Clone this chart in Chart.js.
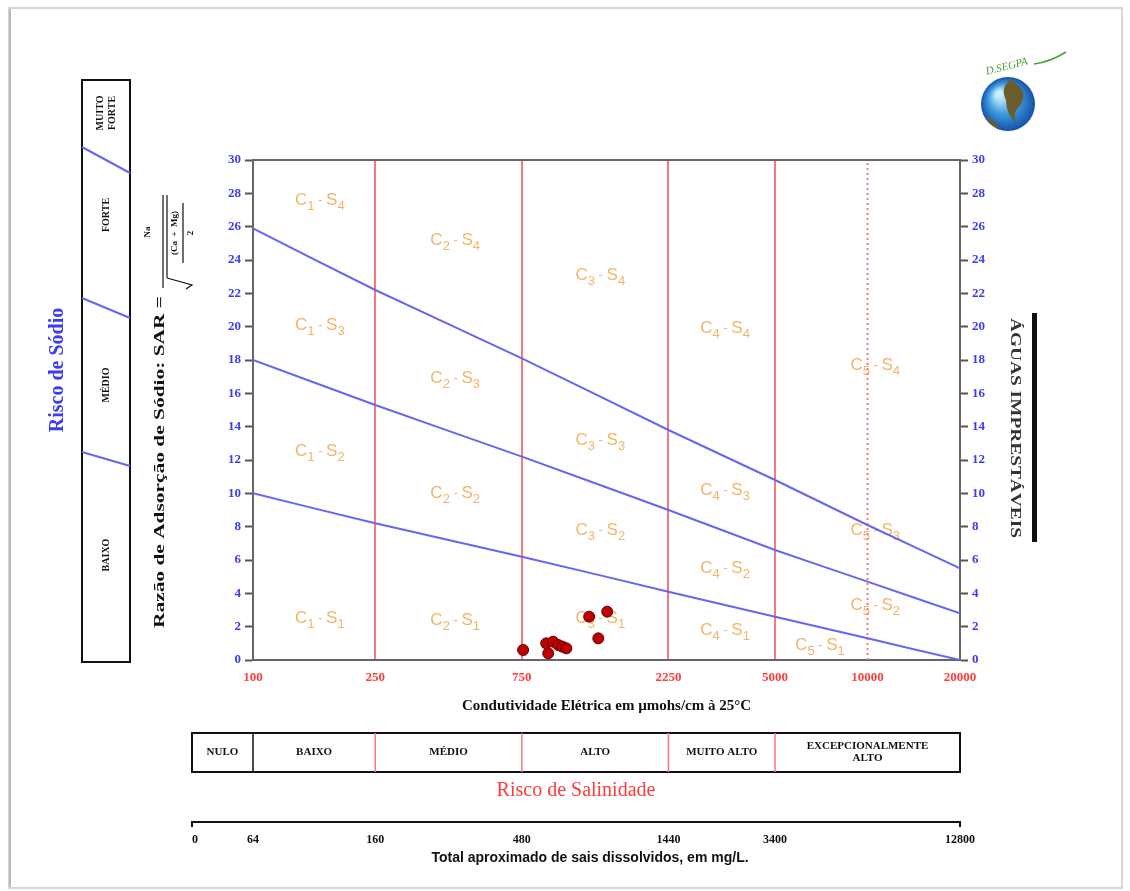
<!DOCTYPE html>
<html lang="pt">
<head>
<meta charset="utf-8">
<title>Classificação de águas para irrigação</title>
<script src="https://cdn.jsdelivr.net/npm/chart.js@4.4.1/dist/chart.umd.min.js"></script>
<style>
  html, body { margin: 0; padding: 0; background: #fff; }
  #wrap { width: 1130px; height: 891px; position: relative; }
</style>
</head>
<body>
<div id="wrap"><canvas id="diagrama"></canvas></div>
<script>
// condutividade (eixo x, log) e limites das classes de salinidade
const condTicks = [100, 250, 750, 2250, 5000, 10000, 20000];
const classLimits = [250, 750, 2250, 5000];
const salinityClasses = ["NULO", "BAIXO", "MÉDIO", "ALTO", "MUITO ALTO", "EXCEPCIONALMENTE ALTO"];
const tdsLabels = ["0", "64", "160", "480", "1440", "3400", "12800"];
const sodiumClasses = ["BAIXO", "MÉDIO", "FORTE", "MUITO FORTE"];

const sarLow = [10, 8.2, 6.2, 4.1, 2.6, 1.3, 0];
const sarMid = [18, 15.3, 12.2, 9.0, 6.6, 4.7, 2.8];
const sarHigh = [25.9, 22.2, 18.1, 13.8, 10.8, 8.1, 5.5];

// amostras
const sampleCE = [757, 900, 914, 948, 985, 1016, 1047, 1242, 1330, 1422];
const sampleSAR = [0.6, 1.0, 0.4, 1.1, 0.9, 0.8, 0.7, 2.6, 1.3, 2.9];

// rótulos das zonas Cx - Sy
const zoneC = [1, 1, 1, 1, 2, 2, 2, 2, 3, 3, 3, 3, 4, 4, 4, 4, 5, 5, 5, 5];
const zoneS = [4, 3, 2, 1, 4, 3, 2, 1, 4, 3, 2, 1, 4, 3, 2, 1, 4, 3, 2, 1];
const zoneCE = [165, 165, 165, 165, 455, 455, 455, 455, 1350, 1350, 1350, 1350,
                3440, 3440, 3440, 3440, 10600, 10600, 10600, 7000];
const zoneSAR = [27.6, 20.1, 12.5, 2.5, 25.2, 16.9, 10.0, 2.4, 23.1, 13.2, 7.8, 2.5,
                 19.9, 10.2, 5.5, 1.8, 17.7, 7.8, 3.3, 0.9];

const serif = "'Liberation Serif', 'DejaVu Serif', serif";
const blue = "#3b3bf5";
const red = "#ff3b3b";
const lineBlue = "#6666ee";
const gridRed = "#f27a7a";
const orange = "#f4b468";

const toXY = (xs, ys) => xs.map((v, i) => ({ x: v, y: ys[i] }));

function vText(ctx, text, cx, cy, font, color, angle, fitWidth) {
  ctx.save();
  ctx.translate(cx, cy);
  ctx.rotate(angle);
  ctx.font = font;
  ctx.fillStyle = color;
  ctx.textAlign = "center";
  ctx.textBaseline = "middle";
  if (fitWidth) {
    const w = ctx.measureText(text).width;
    ctx.scale(fitWidth / w, 1);
  }
  ctx.fillText(text, 0, 0);
  ctx.restore();
}

function zoneLabel(ctx, cx, cy, c, s) {
  const big = "17px 'Liberation Sans', Arial, sans-serif";
  const small = "13px 'Liberation Sans', Arial, sans-serif";
  const parts = [["C", big, 0], [String(c), small, 6], [" - ", small, 0], ["S", big, 0], [String(s), small, 6]];
  let w = 0;
  parts.forEach(p => { ctx.font = p[1]; w += ctx.measureText(p[0]).width; });
  let xx = cx - w / 2;
  ctx.fillStyle = orange;
  ctx.textBaseline = "middle";
  ctx.textAlign = "left";
  parts.forEach(p => {
    ctx.font = p[1];
    ctx.fillText(p[0], xx, cy + p[2]);
    xx += ctx.measureText(p[0]).width;
  });
}

const extras = {
  id: "extras",
  beforeDatasetsDraw(chart) {
    const { ctx, scales: { x, y } } = chart;
    ctx.save();
    zoneC.forEach((c, i) => {
      zoneLabel(ctx, x.getPixelForValue(zoneCE[i]), y.getPixelForValue(zoneSAR[i]), c, zoneS[i]);
    });
    ctx.restore();
  },
  afterDraw(chart) {
    const { ctx, chartArea: a, scales: { x } } = chart;
    ctx.save();

    // moldura da página
    ctx.strokeStyle = "#d6d6d6";
    ctx.lineWidth = 2;
    ctx.strokeRect(9, 8, 1113, 880);
    ctx.strokeStyle = "#b8b8b8";
    ctx.beginPath(); ctx.moveTo(10, 9); ctx.lineTo(10, 887); ctx.stroke();

    // borda superior do gráfico
    ctx.strokeStyle = "#666";
    ctx.lineWidth = 2;
    ctx.beginPath();
    ctx.moveTo(a.left, a.top);
    ctx.lineTo(a.right, a.top);
    ctx.stroke();

    // caixa do risco de sódio
    const bx = 82, bw = 48, by = 80, bh = 582;
    ctx.strokeStyle = "#111";
    ctx.strokeRect(bx, by, bw, bh);
    ctx.strokeStyle = lineBlue;
    [[147, 173], [298, 318], [452, 466]].forEach(([y1, y2]) => {
      ctx.beginPath();
      ctx.moveTo(bx, y1);
      ctx.lineTo(bx + bw, y2);
      ctx.stroke();
    });
    const sFont = "bold 10px " + serif;
    vText(ctx, sodiumClasses[0], 106, 555, sFont, "#111", -Math.PI / 2);
    vText(ctx, sodiumClasses[1], 106, 385, sFont, "#111", -Math.PI / 2);
    vText(ctx, sodiumClasses[2], 106, 215, sFont, "#111", -Math.PI / 2);
    const mf = sodiumClasses[3].split(" ");
    vText(ctx, mf[0], 100, 113, sFont, "#111", -Math.PI / 2);
    vText(ctx, mf[1], 112, 113, sFont, "#111", -Math.PI / 2);

    vText(ctx, "Risco de Sódio", 58, 370, "bold 20px " + serif, blue, -Math.PI / 2);

    // título do eixo y com a fórmula do SAR
    ctx.save();
    ctx.translate(160, 628);
    ctx.rotate(-Math.PI / 2);
    ctx.fillStyle = "#111";
    ctx.strokeStyle = "#111";
    ctx.lineWidth = 1.2;
    ctx.font = "bold 15px " + serif;
    ctx.textBaseline = "middle";
    ctx.textAlign = "left";
    const t = "Razão de Adsorção de Sódio: SAR =";
    const tw = ctx.measureText(t).width;
    ctx.save();
    ctx.scale(332 / tw, 1);
    ctx.fillText(t, 0, 0);
    ctx.restore();
    ctx.textAlign = "center";
    ctx.font = "bold 9px " + serif;
    ctx.fillText("Na", 396, -12);
    ctx.beginPath();
    ctx.moveTo(340, 3); ctx.lineTo(433, 3);
    ctx.moveTo(350, 7); ctx.lineTo(433, 7);
    ctx.moveTo(350, 7); ctx.lineTo(343, 32); ctx.lineTo(339, 26);
    ctx.moveTo(365, 23); ctx.lineTo(425, 23);
    ctx.stroke();
    ctx.fillText("(Ca  +  Mg)", 395, 15);
    ctx.fillText("2", 395, 31);
    ctx.restore();

    // águas imprestáveis
    ctx.fillStyle = "#111";
    ctx.fillRect(1032, 313, 5, 229);
    vText(ctx, "ÁGUAS IMPRESTÁVEIS", 1015, 428, "bold 15px " + serif, "#333", Math.PI / 2, 220);

    // caixa do risco de salinidade
    const left = 192, top = 733, bot = 772;
    const edges = [left, x.getPixelForValue(100)].concat(classLimits.map(v => x.getPixelForValue(v)), [a.right]);
    ctx.lineWidth = 2;
    ctx.strokeStyle = "#111";
    ctx.strokeRect(left, top, a.right - left, bot - top);
    ctx.lineWidth = 1.5;
    for (let i = 1; i < edges.length - 1; i++) {
      ctx.strokeStyle = i === 1 ? "#111" : gridRed;
      ctx.beginPath();
      ctx.moveTo(edges[i], top);
      ctx.lineTo(edges[i], bot);
      ctx.stroke();
    }
    ctx.fillStyle = "#111";
    ctx.font = "bold 11px " + serif;
    ctx.textAlign = "center";
    ctx.textBaseline = "middle";
    salinityClasses.forEach((name, i) => {
      const cx = (edges[i] + edges[i + 1]) / 2;
      if (name === "EXCEPCIONALMENTE ALTO") {
        ctx.fillText("EXCEPCIONALMENTE", cx, (top + bot) / 2 - 6);
        ctx.fillText("ALTO", cx, (top + bot) / 2 + 6);
      } else {
        ctx.fillText(name, cx, (top + bot) / 2);
      }
    });

    ctx.font = "20px " + serif;
    ctx.fillStyle = red;
    ctx.fillText("Risco de Salinidade", 576, 791);

    // escala de sólidos totais dissolvidos
    const ly = 822;
    ctx.strokeStyle = "#111";
    ctx.lineWidth = 2;
    ctx.beginPath();
    ctx.moveTo(left, ly + 5); ctx.lineTo(left, ly); ctx.lineTo(a.right, ly); ctx.lineTo(a.right, ly + 5);
    ctx.stroke();
    ctx.fillStyle = "#111";
    ctx.font = "bold 12px " + serif;
    const tdsPos = [left + 3, x.getPixelForValue(100), x.getPixelForValue(250), x.getPixelForValue(750),
                    x.getPixelForValue(2250), x.getPixelForValue(5000), x.getPixelForValue(20000)];
    tdsLabels.forEach((lab, i) => ctx.fillText(lab, tdsPos[i], 840));
    ctx.font = "bold 14px 'Liberation Sans Narrow', 'Liberation Sans', sans-serif";
    ctx.fillText("Total aproximado de sais dissolvidos, em mg/L.", 590, 858);

    // logotipo
    const gx = 1008, gy = 104, r = 27;
    const g = ctx.createRadialGradient(gx - 9, gy - 10, 3, gx, gy, r);
    g.addColorStop(0, "#c8f0ff");
    g.addColorStop(0.5, "#3d9be0");
    g.addColorStop(1, "#1550a8");
    ctx.fillStyle = g;
    ctx.beginPath(); ctx.arc(gx, gy, r, 0, Math.PI * 2); ctx.fill();
    ctx.fillStyle = "#6b5d2c";
    ctx.beginPath();
    ctx.moveTo(gx + 2, gy - 24); ctx.quadraticCurveTo(gx + 22, gy - 14, gx + 12, gy + 2);
    ctx.quadraticCurveTo(gx + 4, gy + 8, gx + 8, gy + 18);
    ctx.quadraticCurveTo(gx - 2, gy + 10, gx - 2, gy - 4);
    ctx.quadraticCurveTo(gx - 8, gy - 16, gx + 2, gy - 24);
    ctx.fill();
    ctx.beginPath();
    ctx.moveTo(gx - 22, gy + 12); ctx.quadraticCurveTo(gx - 12, gy + 16, gx - 8, gy + 26);
    ctx.quadraticCurveTo(gx - 18, gy + 22, gx - 22, gy + 12);
    ctx.fill();
    ctx.fillStyle = "#4f9a3a";
    ctx.font = "italic 11px " + serif;
    ctx.textAlign = "left";
    ctx.save();
    ctx.translate(986, 72);
    ctx.rotate(-0.25);
    ctx.fillText("D.SEGPA", 0, 0);
    ctx.restore();
    ctx.strokeStyle = "#4f9a3a";
    ctx.lineWidth = 1.5;
    ctx.beginPath();
    ctx.moveTo(1034, 64); ctx.quadraticCurveTo(1050, 62, 1066, 52);
    ctx.stroke();

    ctx.restore();
  }
};

const curve = (data) => ({
  data: data,
  showLine: true,
  borderColor: lineBlue,
  borderWidth: 2,
  pointRadius: 0,
  tension: 0.15,
  order: 2
});

new Chart(document.getElementById("diagrama"), {
  type: "scatter",
  data: {
    datasets: [
      {
        label: "Amostras",
        data: toXY(sampleCE, sampleSAR),
        backgroundColor: "#c00000",
        borderColor: "#5a0000",
        borderWidth: 1,
        pointRadius: 5.5,
        order: 0
      },
      curve(toXY(condTicks, sarLow)),
      curve(toXY(condTicks, sarMid)),
      curve(toXY(condTicks, sarHigh)),
      {
        data: [{ x: 10000, y: 0 }, { x: 10000, y: 30 }],
        showLine: true,
        borderColor: gridRed,
        borderWidth: 2,
        borderDash: [2, 3],
        pointRadius: 0,
        order: 3
      }
    ]
  },
  plugins: [extras],
  options: {
    responsive: true,
    maintainAspectRatio: false,
    animation: false,
    layout: { padding: { left: 208, right: 125, top: 160, bottom: 171 } },
    plugins: {
      legend: { display: false },
      tooltip: { enabled: false }
    },
    scales: {
      x: {
        type: "logarithmic",
        min: 100,
        max: 20000,
        afterBuildTicks: (s) => { s.ticks = condTicks.map(v => ({ value: v })); },
        afterFit: (s) => { s.height = 60; },
        ticks: {
          autoSkip: false,
          maxRotation: 0,
          padding: 10,
          color: red,
          font: { family: serif, size: 13, weight: "bold" },
          callback: (v) => String(v)
        },
        grid: {
          drawTicks: false,
          lineWidth: 2,
          color: (c) => classLimits.includes(c.tick && c.tick.value) ? gridRed : "transparent"
        },
        border: { color: "#666", width: 2 },
        title: {
          display: true,
          text: "Condutividade Elétrica em µmohs/cm à 25°C",
          color: "#111",
          font: { family: serif, size: 15, weight: "bold" },
          padding: { top: 4, bottom: 5 }
        }
      },
      y: {
        min: 0,
        max: 30,
        afterFit: (s) => { s.width = 45; },
        ticks: {
          stepSize: 2,
          padding: 4,
          color: blue,
          font: { family: serif, size: 13, weight: "bold" }
        },
        grid: { drawOnChartArea: false, tickLength: 8, tickColor: "#555", tickWidth: 2 },
        border: { color: "#666", width: 2 }
      },
      y2: {
        position: "right",
        min: 0,
        max: 30,
        afterFit: (s) => { s.width = 45; },
        ticks: {
          stepSize: 2,
          padding: 4,
          color: blue,
          font: { family: serif, size: 13, weight: "bold" }
        },
        grid: { drawOnChartArea: false, tickLength: 8, tickColor: "#555", tickWidth: 2 },
        border: { color: "#666", width: 2 }
      }
    }
  }
});
</script>
</body>
</html>
